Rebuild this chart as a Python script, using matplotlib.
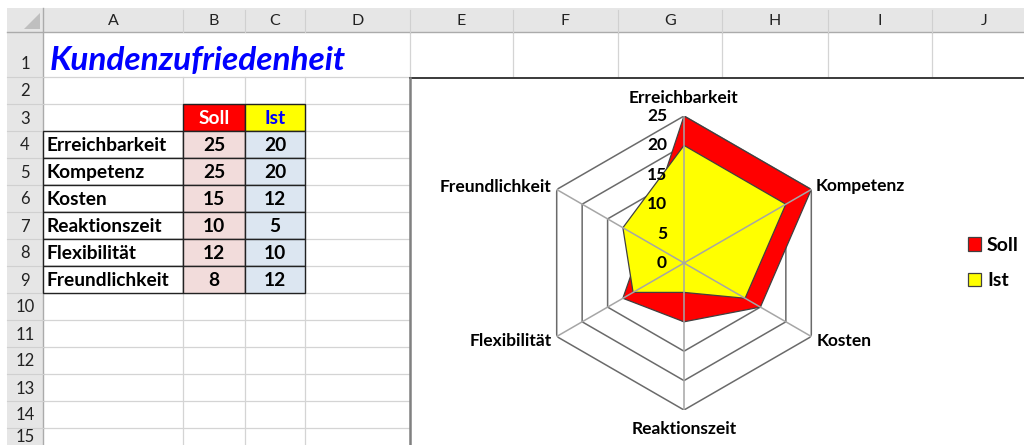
import numpy as np
import matplotlib
matplotlib.use("Agg")
import matplotlib.pyplot as plt
from matplotlib.patches import Rectangle, Polygon
from matplotlib.transforms import offset_copy

# ---------------- data ----------------
title = "Kundenzufriedenheit"
categories = ["Erreichbarkeit", "Kompetenz", "Kosten", "Reaktionszeit", "Flexibilität", "Freundlichkeit"]
series_names = ["Soll", "Ist"]
soll = [25, 25, 15, 10, 12, 8]
ist = [20, 20, 12, 5, 10, 12]
r_ticks = [0, 5, 10, 15, 20, 25]
col_letters = ["A", "B", "C", "D", "E", "F", "G", "H", "I", "J"]
row_numbers = list(range(1, 16))

# ---------------- layout (pixels) ----------------
W, H = 1024, 445
FONT = "Lato"
col_edges = [43, 183, 245, 305, 410, 513, 618, 722, 828, 932, 1036]
row_edges = [32, 77, 104, 131, 158, 185, 212, 239, 266, 293, 320, 347, 374, 401, 428, 455]
hdr_top, hdr_bot = 8, 32
rh_left, rh_right = 7, 43
chart_left, chart_top = 410, 78
grid_c = "#D4D4D4"
hdr_fill = "#E6E6E6"
hdr_line = "#ABABAB"
TS = 13.8  # table font size

fig = plt.figure(figsize=(W / 100, H / 100), dpi=100)
bg = fig.add_axes([0, 0, 1, 1])
bg.set_xlim(0, W)
bg.set_ylim(H, 0)
bg.axis("off")

# header bars
bg.add_patch(Rectangle((rh_left, hdr_top), W - rh_left, hdr_bot - hdr_top, fc=hdr_fill, ec="none", zorder=1))
bg.add_patch(Rectangle((rh_left, hdr_bot), rh_right - rh_left, H - hdr_bot, fc=hdr_fill, ec="none", zorder=1))
bg.add_patch(Polygon([(24, 29), (40, 29), (40, 13)], closed=True, fc="#BFBFBF", ec="none", zorder=2))
bg.plot([rh_left, W], [hdr_bot, hdr_bot], color=hdr_line, lw=1.0, zorder=3)
bg.plot([rh_right, rh_right], [hdr_top, H], color=hdr_line, lw=1.0, zorder=3)

# column header letters and separators
for i, letter in enumerate(col_letters):
    x0, x1 = col_edges[i], col_edges[i + 1]
    bg.text((x0 + x1) / 2, (hdr_top + hdr_bot) / 2 + 1, letter, ha="center", va="center",
            fontsize=11.5, color="#222222", family=FONT, zorder=4)
    bg.plot([x1, x1], [hdr_top + 2, hdr_bot], color="#D0D0D0", lw=0.8, zorder=3)

# row header numbers and separators
for j, num in enumerate(row_numbers):
    y0, y1 = row_edges[j], row_edges[j + 1]
    yc = (y0 + y1) / 2 + 1 if j > 0 else y1 - 13
    if j == len(row_numbers) - 1:
        yc = y0 + 9
    bg.text((rh_left + rh_right) / 2, yc, str(num), ha="center", va="center",
            fontsize=12, color="#222222", family=FONT, zorder=4)
    bg.plot([rh_left, rh_right], [y1, y1], color="#D0D0D0", lw=0.8, zorder=3)

# cell gridlines (left part, below row 1)
for x in col_edges[1:5]:
    bg.plot([x, x], [row_edges[1], H], color=grid_c, lw=0.9, zorder=2)
bg.plot([col_edges[4], col_edges[4]], [hdr_bot, row_edges[1]], color=grid_c, lw=0.9, zorder=2)
for y in row_edges[1:]:
    bg.plot([rh_right, chart_left], [y, y], color=grid_c, lw=0.9, zorder=2)
# right part (row 1 only, above chart)
for x in col_edges[5:]:
    bg.plot([x, x], [hdr_bot, chart_top], color=grid_c, lw=0.9, zorder=2)

# title
bg.text(50, 60, title, ha="left", va="center", fontsize=24, fontweight="bold", fontstyle="italic",
        color="#0000FF", family=FONT, zorder=5)

# table
xA0, xA1, xB1, xC1 = col_edges[0], col_edges[1], col_edges[2], col_edges[3]
y3_0, y3_1 = row_edges[2], row_edges[3]
bg.add_patch(Rectangle((xA1, y3_0), xB1 - xA1, y3_1 - y3_0, fc="#FF0000", ec="#222222", lw=1.0, zorder=4))
bg.add_patch(Rectangle((xB1, y3_0), xC1 - xB1, y3_1 - y3_0, fc="#FFFF00", ec="#222222", lw=1.0, zorder=4))
bg.text((xA1 + xB1) / 2, (y3_0 + y3_1) / 2 + 1, series_names[0], ha="center", va="center",
        fontsize=TS, fontweight="bold", color="white", family=FONT, zorder=5)
bg.text((xB1 + xC1) / 2, (y3_0 + y3_1) / 2 + 1, series_names[1], ha="center", va="center",
        fontsize=TS, fontweight="bold", color="#0000FF", family=FONT, zorder=5)
for k, cat in enumerate(categories):
    y0, y1 = row_edges[3 + k], row_edges[4 + k]
    yc = (y0 + y1) / 2 + 1
    bg.add_patch(Rectangle((xA0, y0), xA1 - xA0, y1 - y0, fc="white", ec="#222222", lw=1.0, zorder=4))
    bg.add_patch(Rectangle((xA1, y0), xB1 - xA1, y1 - y0, fc="#F2DCDB", ec="#222222", lw=1.0, zorder=4))
    bg.add_patch(Rectangle((xB1, y0), xC1 - xB1, y1 - y0, fc="#DCE6F1", ec="#222222", lw=1.0, zorder=4))
    bg.text(xA0 + 4, yc, cat, ha="left", va="center", fontsize=TS, fontweight="bold",
            color="black", family=FONT, zorder=5)
    bg.text((xA1 + xB1) / 2, yc, str(soll[k]), ha="center", va="center", fontsize=TS,
            fontweight="bold", color="black", family=FONT, zorder=5)
    bg.text((xB1 + xC1) / 2, yc, str(ist[k]), ha="center", va="center", fontsize=TS,
            fontweight="bold", color="black", family=FONT, zorder=5)

# chart area
bg.add_patch(Rectangle((chart_left, chart_top), W - chart_left + 5, H - chart_top + 5, fc="white",
                       ec="none", zorder=6))
bg.plot([chart_left, W], [chart_top, chart_top], color="#3A3A3A", lw=1.4, zorder=7)
bg.plot([chart_left, chart_left], [chart_top, H], color="#808080", lw=1.8, zorder=7)

# ---------------- radar ----------------
cx, cy, R = 684, 263, 147
ax = fig.add_axes([(cx - R) / W, (H - cy - R) / H, 2 * R / W, 2 * R / H], projection="polar", zorder=8)
ax.set_theta_offset(np.pi / 2)
ax.set_theta_direction(-1)
ax.set_ylim(0, max(r_ticks))
ax.grid(False)
ax.set_xticks([])
ax.set_yticks([])
ax.spines["polar"].set_visible(False)
ax.patch.set_alpha(0)

n = len(categories)
theta = np.arange(n) * 2 * np.pi / n
theta_c = np.append(theta, theta[0])

for v in r_ticks[1:]:
    ax.plot(theta_c, [v] * (n + 1), color="#6A6A6A", lw=1.1, zorder=1)

soll_c = np.append(soll, soll[0])
ist_c = np.append(ist, ist[0])
h_soll = ax.fill(theta_c, soll_c, facecolor="#FF0000", edgecolor="#404040", lw=0.9, zorder=2,
                 label=series_names[0])[0]
h_ist = ax.fill(theta_c, ist_c, facecolor="#FFFF00", edgecolor="#404040", lw=0.9, zorder=3,
                label=series_names[1])[0]

for t in theta:
    ax.plot([t, t], [0, max(r_ticks)], color="#A6A6A6", lw=1.1, zorder=4)

tick_tr = offset_copy(ax.transData, fig=fig, x=-17, y=0, units="dots")
for v in r_ticks:
    ax.text(0, v, str(v), transform=tick_tr, ha="right", va="center", fontsize=12.5,
            fontweight="bold", color="black", family=FONT, zorder=5)

label_offsets = [(0, 18, "center"), (4, 3, "left"), (5, -4, "left"),
                 (0, -19, "center"), (-5, -4, "right"), (-5, 3, "right")]
for t, cat, (dx, dy, ha) in zip(theta, categories, label_offsets):
    ax.annotate(cat, xy=(t, max(r_ticks)), xytext=(dx, dy), textcoords="offset pixels",
                ha=ha, va="center", fontsize=12.5, fontweight="bold", color="black",
                family=FONT, annotation_clip=False, zorder=5)

fig.legend(handles=[h_soll, h_ist], labels=series_names, loc="center left",
           bbox_to_anchor=(950 / W, 1 - 263 / H), frameon=False, handlelength=0.7,
           handleheight=0.7, handletextpad=0.3, labelspacing=0.95,
           prop={"family": FONT, "weight": "bold", "size": 14})

fig.savefig("out.png", dpi=100)
